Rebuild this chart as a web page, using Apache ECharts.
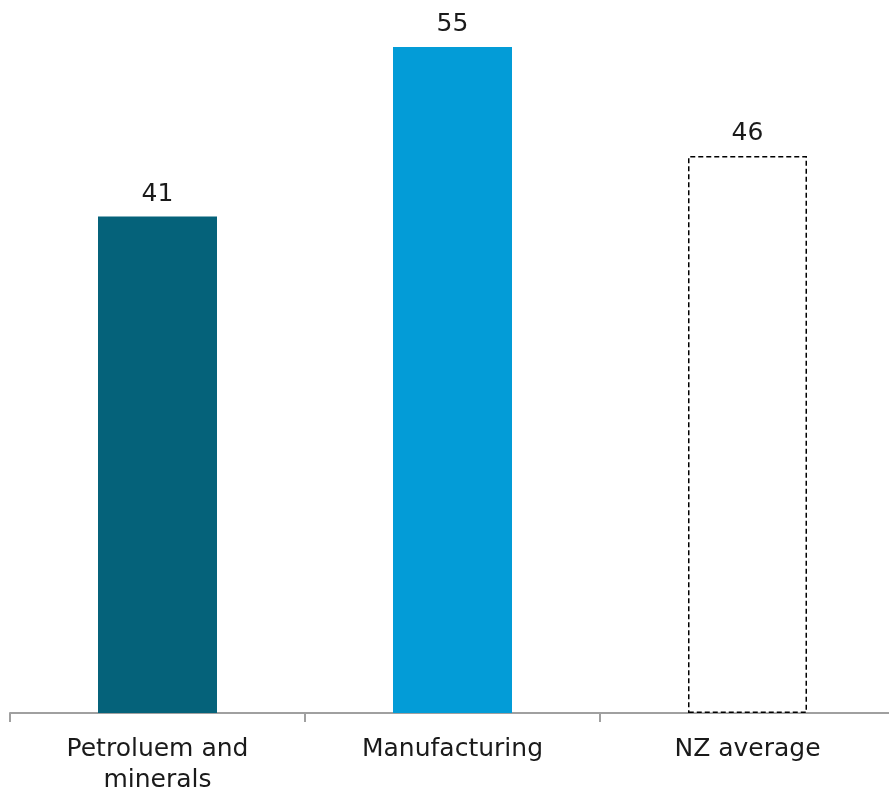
<!DOCTYPE html>
<html>
<head>
<meta charset="utf-8">
<script src="https://cdn.jsdelivr.net/npm/echarts@6/dist/echarts.min.js"></script>
<style>
html,body{margin:0;padding:0;background:#fff;}
#chart{width:889px;height:792px;}
</style>
</head>
<body>
<div id="chart"></div>
<script>
var categories = ['Petroluem and\nminerals', 'Manufacturing', 'NZ average'];
var values = [41, 55, 46];

var barStyles = [
    {color: '#05627a'},
    {color: '#039cd7'},
    {color: '#ffffff', borderColor: '#000000', borderWidth: 1.5, borderType: [5, 3]}
];

var chart = echarts.init(document.getElementById('chart'));

var option = {
    animation: false,
    textStyle: {fontFamily: 'DejaVu Sans'},
    grid: {left: 10, width: 885, top: 47, bottom: 79, containLabel: false, outerBoundsMode: 'none'},
    xAxis: {
        type: 'category',
        data: categories,
        axisLine: {lineStyle: {color: '#a0a0a0', width: 2}},
        axisTick: {show: true, length: 9, lineStyle: {color: '#a0a0a0', width: 2}},
        axisLabel: {color: '#1a1a1a', fontSize: 25, margin: 21, lineHeight: 31}
    },
    yAxis: {
        type: 'value',
        min: 0,
        max: 55,
        show: false,
        splitLine: {show: false}
    },
    series: [{
        type: 'bar',
        barWidth: 119,
        data: values.map(function (v, i) {
            return {value: v, itemStyle: barStyles[i]};
        }),
        label: {
            show: true,
            position: 'top',
            distance: 10,
            color: '#1a1a1a',
            fontSize: 25
        }
    }]
};

chart.setOption(option);
</script>
</body>
</html>
